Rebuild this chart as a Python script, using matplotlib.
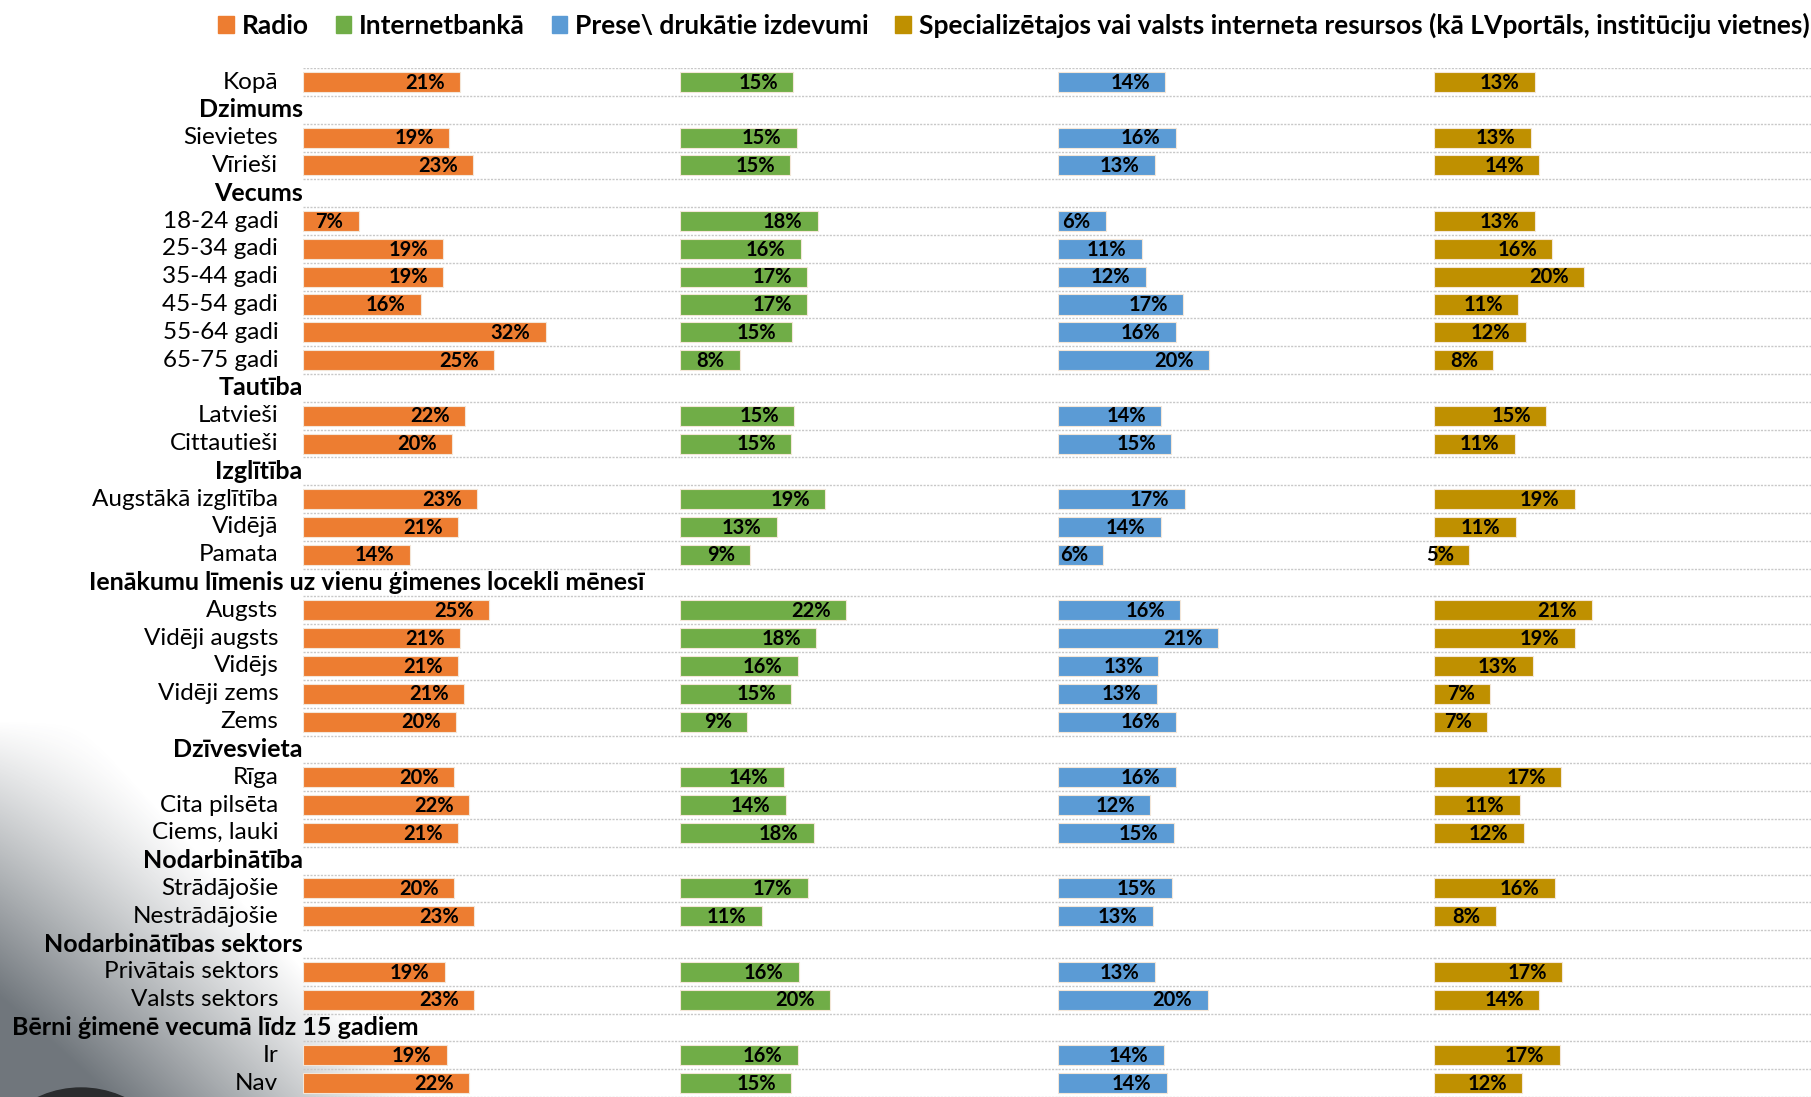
import matplotlib.pyplot as plt
import numpy as np
from matplotlib.patches import Patch, Circle

plt.rcParams['font.family'] = ['Lato', 'DejaVu Sans']

# ===== Data =====
rows = ['Kopā', 'Dzimums', 'Sievietes', 'Vīrieši', 'Vecums', '18-24 gadi', '25-34 gadi',
        '35-44 gadi', '45-54 gadi', '55-64 gadi', '65-75 gadi', 'Tautība', 'Latvieši',
        'Cittautieši', 'Izglītība', 'Augstākā izglītība', 'Vidējā', 'Pamata',
        'Ienākumu līmenis uz vienu ģimenes locekli mēnesī', 'Augsts', 'Vidēji augsts',
        'Vidējs', 'Vidēji zems', 'Zems', 'Dzīvesvieta', 'Rīga', 'Cita pilsēta',
        'Ciems, lauki', 'Nodarbinātība', 'Strādājošie', 'Nestrādājošie',
        'Nodarbinātības sektors', 'Privātais sektors', 'Valsts sektors',
        'Bērni ģimenē vecumā līdz 15 gadiem', 'Ir', 'Nav']
headers = ['Dzimums', 'Vecums', 'Tautība', 'Izglītība',
           'Ienākumu līmenis uz vienu ģimenes locekli mēnesī', 'Dzīvesvieta',
           'Nodarbinātība', 'Nodarbinātības sektors', 'Bērni ģimenē vecumā līdz 15 gadiem']

series = ['Radio', 'Internetbankā', 'Prese\\ drukātie izdevumi',
          'Specializētajos vai valsts interneta resursos (kā LVportāls, institūciju vietnes)']
colors = ['#ED7D31', '#70AD47', '#5B9BD5', '#BF9000']

n = np.nan
radio = [20.9, n, 19.4, 22.6, n, 7.4, 18.6, 18.6, 15.7, 32.2, 25.3, n, 21.5, 19.8, n,
         23.1, 20.6, 14.2, n, 24.7, 20.9, 20.6, 21.4, 20.3, n, 20.0, 22.0, 20.6, n,
         20.0, 22.7, n, 18.8, 22.7, n, 19.1, 22.0]
internet = [15.0, n, 15.4, 14.6, n, 18.2, 16.0, 16.8, 16.8, 14.8, 7.9, n, 15.1, 14.7, n,
            19.2, 12.8, 9.3, n, 22.0, 18.0, 15.6, 14.7, 8.9, n, 13.7, 14.0, 17.7, n,
            16.9, 10.8, n, 15.7, 19.8, n, 15.6, 14.7]
prese = [14.2, n, 15.6, 12.8, n, 6.3, 11.1, 11.6, 16.6, 15.6, 20.0, n, 13.7, 15.0, n,
         16.8, 13.6, 6.0, n, 16.2, 21.2, 13.3, 13.1, 15.6, n, 15.6, 12.2, 15.3, n,
         15.1, 12.6, n, 12.8, 19.8, n, 14.0, 14.4]
special = [13.3, n, 12.8, 13.9, n, 13.3, 15.6, 19.8, 11.1, 12.1, 7.8, n, 14.8, 10.6, n,
           18.6, 10.8, 4.6, n, 20.9, 18.6, 13.0, 7.4, 7.0, n, 16.8, 11.3, 11.8, n,
           15.9, 8.1, n, 16.9, 13.9, n, 16.6, 11.6]
values = [radio, internet, prese, special]

# ===== Figure =====
fig = plt.figure(figsize=(18.11, 10.97), dpi=100)

# background decoration (grey fade bottom-left)
bg = fig.add_axes([0, 0, 1, 1], zorder=-5)
H, W = 1097, 1811
yy, xx = np.mgrid[0:H, 0:W]
a = np.clip((yy - 720) / 380, 0, 1) * np.clip(1 - xx / (80 + (yy - 720) * 0.9), 0, 1)
a = np.clip(a * 1.1, 0, 0.8)
img = np.zeros((H, W, 4))
img[..., :3] = np.array([0.30, 0.33, 0.36])
img[..., 3] = a
bg.imshow(img, extent=(0, W, H, 0), aspect='auto')
bg.add_patch(Circle((81, 1190), 102, color='#2a2c2e'))
bg.set_xlim(0, W)
bg.set_ylim(H, 0)
bg.axis('off')

y = np.arange(len(rows))
lefts = [0.1671, 0.3756, 0.5842, 0.7921]
top = 1 - 59 / 950
for k, (vals, col) in enumerate(zip(values, colors)):
    ax = fig.add_axes([lefts[k], 0, 0.2085, top])
    ax.set_xlim(0, 50)
    ax.set_ylim(len(rows) - 0.5, -0.5)
    v = np.array(vals)
    ax.barh(y, v, height=0.72, color=col, edgecolor='#f3e6d8', linewidth=0.8, zorder=2)
    for i, val in enumerate(v):
        if np.isnan(val):
            continue
        ax.annotate(f'{val:.0f}%', xy=(val, i), xytext=(-11, -0.5), textcoords='offset points',
                    ha='right', va='center', fontsize=14.5, fontweight='bold', zorder=3)
    for b in np.arange(-0.5, len(rows), 1):
        ax.axhline(b, color='#c8c8c8', linestyle=(0, (1.5, 1)), linewidth=1, zorder=1)
    ax.axis('off')

# row labels
for i, r in enumerate(rows):
    yf = top * (1 - (i + 0.5) / len(rows))
    if r in headers:
        if r.startswith('Ienākumu'):
            fig.text(0.0491, yf, r, ha='left', va='center', fontsize=18, fontweight='bold')
        elif r.startswith('Bērni'):
            fig.text(0.0064, yf, r, ha='left', va='center', fontsize=18, fontweight='bold')
        else:
            fig.text(0.1671, yf, r, ha='right', va='center', fontsize=18, fontweight='bold')
    else:
        fig.text(0.1537, yf, r, ha='right', va='center', fontsize=17.5)

handles = [Patch(color=c, label=s) for c, s in zip(colors, series)]
fig.legend(handles=handles, loc='center', bbox_to_anchor=(0.56, 0.977), ncol=4, frameon=False,
           prop={'size': 19, 'weight': 'bold'}, handlelength=0.6, handleheight=0.6,
           handletextpad=0.3, columnspacing=1.0)

fig.savefig('out.png', dpi=100)
